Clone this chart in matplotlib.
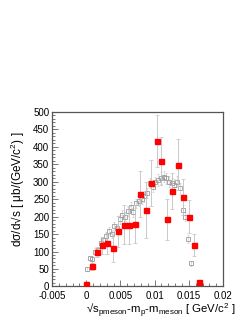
import numpy as np
import matplotlib
matplotlib.use("Agg")
import matplotlib.pyplot as plt
from matplotlib.ticker import MultipleLocator

plt.rcParams['font.family'] = ['Liberation Sans', 'DejaVu Sans']
plt.rcParams['mathtext.default'] = 'regular'

# red filled points (data)
red_x = [0.0, 0.0008, 0.0016, 0.0023, 0.0031, 0.0039, 0.0047, 0.0055, 0.0063, 0.0071, 0.0079,
         0.0087, 0.0095, 0.0103, 0.0110, 0.0118, 0.0126, 0.0134, 0.0142, 0.0150, 0.0157, 0.0165]
red_y = [8, 58, 98, 118, 124, 111, 158, 177, 176, 179, 265,
         220, 296, 417, 359, 192, 274, 349, 256, 200, 118, 14]
red_err = [3, 10, 15, 25, 30, 40, 45, 55, 55, 55, 65,
           80, 65, 75, 68, 58, 52, 73, 52, 48, 32, 4]

# gray open squares (simulation)
gray_x = [0.0001, 0.0005, 0.0009, 0.0013, 0.0017, 0.0021, 0.0025, 0.0029, 0.0033, 0.0037,
          0.0041, 0.0045, 0.0049, 0.0053, 0.0057, 0.0061, 0.0065, 0.0069, 0.0073, 0.0077,
          0.0081, 0.0085, 0.0089, 0.0093, 0.0097, 0.0101, 0.0105, 0.0109, 0.0113, 0.0117,
          0.0121, 0.0125, 0.0129, 0.0133, 0.0137, 0.0141, 0.0145, 0.0149, 0.0153]
gray_y = [50, 80, 78, 100, 105, 125, 132, 145, 160, 150,
          172, 168, 192, 205, 200, 215, 228, 212, 238, 245,
          252, 258, 268, 297, 286, 300, 305, 311, 315, 310,
          300, 296, 291, 300, 281, 219, 200, 135, 66]
gray_err = [6, 8, 8, 9, 9, 10, 10, 11, 11, 11,
            12, 12, 12, 13, 13, 13, 14, 14, 14, 14,
            15, 15, 15, 15, 15, 15, 16, 16, 16, 16,
            16, 16, 16, 16, 15, 14, 13, 11, 8]

x_ticks = [-0.005, 0, 0.005, 0.01, 0.015, 0.02]
x_ticklabels = ['-0.005', '0', '0.005', '0.01', '0.015', '0.02']

fig = plt.figure(figsize=(2.47, 3.2), dpi=100)
ax = fig.add_axes([0.2105, 0.105, 0.6925, 0.545])

ax.errorbar(gray_x, gray_y, yerr=gray_err, fmt='s', ms=3, mfc='none', mec='#9a9a9a',
            mew=0.6, ecolor='#d0d0d0', elinewidth=0.5, capsize=1, capthick=0.5, zorder=2)
ax.errorbar(red_x, red_y, yerr=red_err, fmt='s', ms=3.6, mfc='#ff0000', mec='#ff0000',
            ecolor='#c0c0c0', elinewidth=0.6, capsize=1.2, capthick=0.5, zorder=3)

ax.set_xlim(-0.005, 0.02)
ax.set_ylim(0, 500)
ax.set_xticks(x_ticks)
ax.set_xticklabels(x_ticklabels)
ax.xaxis.set_minor_locator(MultipleLocator(0.001))
ax.yaxis.set_major_locator(MultipleLocator(50))
ax.yaxis.set_minor_locator(MultipleLocator(10))

ax.tick_params(which='both', direction='in', top=False, right=False, labelsize=7,
               color='#444444', width=0.5)
ax.tick_params(which='major', length=4)
ax.tick_params(which='minor', length=2)
ax.tick_params(axis='x', which='major', pad=3.6)
ax.tick_params(axis='y', which='major', pad=2)
for s in ax.spines.values():
    s.set_color('#555555')
    s.set_linewidth(0.9)

fig.text(236 / 247, 0.0,
         r'√s$_{pmeson}$-m$_{p}$-m$_{meson}$ [ GeV/c$^{2}$ ]',
         ha='right', va='bottom', fontsize=8.2)
fig.text(18 / 247, 1 - 132 / 320,
         r'dσ/d√s [ μb/(GeV/c$^{2}$) ]',
         ha='center', va='top', rotation=90, fontsize=8.5)

fig.savefig('out.png', dpi=100)
